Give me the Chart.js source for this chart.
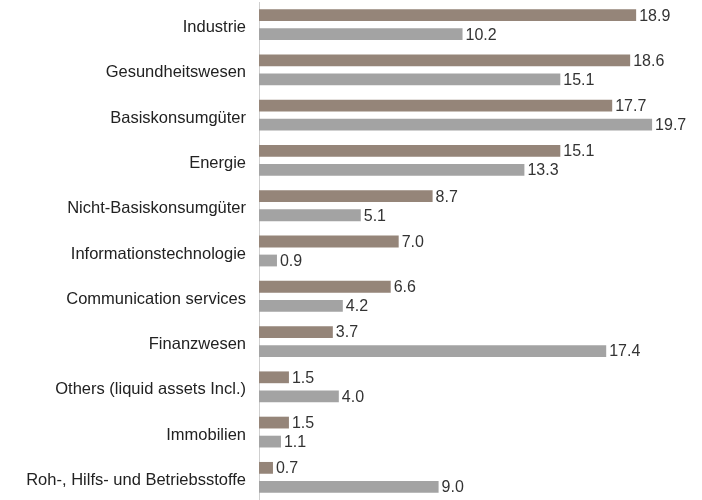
<!DOCTYPE html>
<html lang="de">
<head>
    <meta charset="UTF-8">
    <title>Sektorallokation</title>
    <script src="https://cdn.jsdelivr.net/npm/chart.js"></script>
    <style>
        body { margin: 0; background: #fff; }
        #wrap { width: 702px; height: 500px; }
    </style>
</head>
<body>
    <div id="wrap"><canvas id="chart"></canvas></div>
    <script>
        const sektoren = [
            "Industrie", "Gesundheitswesen", "Basiskonsumgüter", "Energie",
            "Nicht-Basiskonsumgüter", "Informationstechnologie", "Communication services",
            "Finanzwesen", "Others (liquid assets Incl.)", "Immobilien",
            "Roh-, Hilfs- und Betriebsstoffe"
        ];
        const fonds = [18.9, 18.6, 17.7, 15.1, 8.7, 7.0, 6.6, 3.7, 1.5, 1.5, 0.7];
        const benchmark = [10.2, 15.1, 19.7, 13.3, 5.1, 0.9, 4.2, 17.4, 4.0, 1.1, 9.0];

        const schrift = "'Liberation Sans Narrow', 'Arial Narrow', 'Liberation Sans', sans-serif";

        // Werte rechts neben den Balken schreiben
        const wertLabels = {
            id: "wertLabels",
            afterDatasetsDraw(chart) {
                const ctx = chart.ctx;
                ctx.save();
                ctx.font = "16px " + schrift;
                ctx.fillStyle = "#333";
                ctx.textBaseline = "middle";
                ctx.textAlign = "left";
                chart.data.datasets.forEach((ds, i) => {
                    chart.getDatasetMeta(i).data.forEach((bar, j) => {
                        ctx.fillText(ds.data[j].toFixed(1), bar.x + 3, bar.y + 1);
                    });
                });
                ctx.restore();
            }
        };

        new Chart(document.getElementById("chart"), {
            type: "bar",
            data: {
                labels: sektoren,
                datasets: [
                    { data: fonds, backgroundColor: "#958579", categoryPercentage: 0.84, barPercentage: 0.62 },
                    { data: benchmark, backgroundColor: "#a3a3a3", categoryPercentage: 0.84, barPercentage: 0.62 }
                ]
            },
            options: {
                indexAxis: "y",
                responsive: true,
                maintainAspectRatio: false,
                animation: false,
                layout: { padding: { top: 2, right: 4, bottom: 0, left: 0 } },
                plugins: { legend: { display: false }, tooltip: { enabled: false } },
                scales: {
                    x: {
                        min: 0,
                        max: 22,
                        display: false
                    },
                    y: {
                        grid: { display: false, drawTicks: false },
                        border: { display: true, color: "#cfcfcf", width: 1 },
                        ticks: {
                            color: "#222",
                            padding: 13,
                            labelOffset: 3,
                            font: { family: schrift, size: 16.5 }
                        },
                        afterFit(scale) {
                            scale.width = 259;
                            scale.paddingTop = 0;
                            scale.paddingBottom = 0;
                        }
                    }
                }
            },
            plugins: [wertLabels]
        });
    </script>
</body>
</html>
